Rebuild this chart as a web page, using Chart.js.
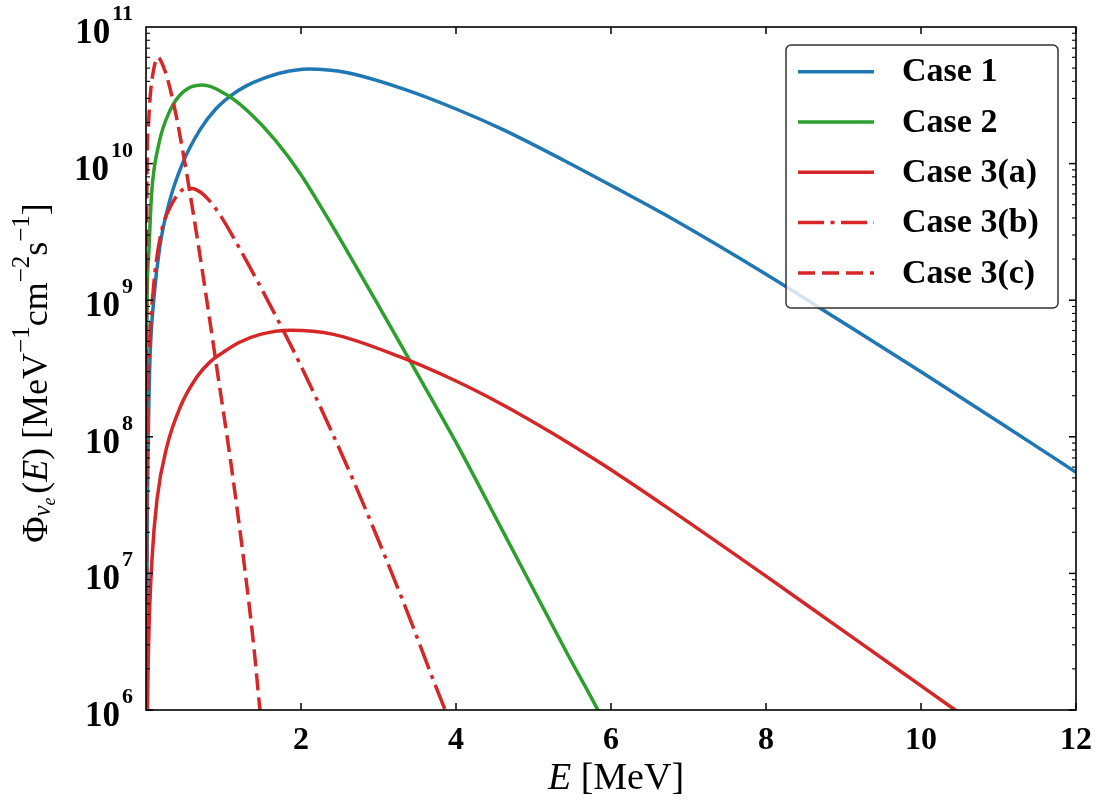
<!DOCTYPE html>
<html>
<head>
<meta charset="utf-8">
<script src="https://cdn.jsdelivr.net/npm/chart.js@4.4.1/dist/chart.umd.min.js"></script>
<style>
    html, body { margin: 0; padding: 0; background: #fff; }
    canvas { display: block; }
</style>
</head>
<body>
<canvas id="spectra" width="1096" height="806"></canvas>
<script>
// energies in MeV, fluxes in MeV^-1 cm^-2 s^-1
var case1E = [0.005, 0.015, 0.03, 0.05, 0.1, 0.18, 0.3, 0.47, 0.7, 0.9, 1.1, 1.3, 1.5, 1.75, 2.1, 2.6, 3.3, 4.0, 4.6, 5.4, 6.1, 6.7, 8.0, 8.9, 10.0, 11.0, 12.0];
var case1Flux = [3.2e5, 1.6e7, 1.0e8, 3.5e8, 1.0e9, 2.5e9, 5.2e9, 1.0e10, 1.78e10, 2.51e10, 3.16e10, 3.72e10, 4.17e10, 4.62e10, 4.92e10, 4.62e10, 3.55e10, 2.51e10, 1.78e10, 1.05e10, 6.46e9, 4.22e9, 1.55e9, 7.41e8, 2.99e8, 1.29e8, 5.5e7];

var case2E = [0.001, 0.008, 0.03, 0.072, 0.16, 0.31, 0.48, 0.72, 1.08, 1.35, 1.67, 2.0, 2.31, 2.64, 2.96, 3.43, 4.0, 4.59, 5.44, 5.83, 6.0];
var case2Flux = [3.2e5, 4.0e8, 1.95e9, 6.0e9, 1.35e10, 2.45e10, 3.35e10, 3.76e10, 3.09e10, 2.32e10, 1.48e10, 8.3e9, 4.3e9, 2.07e9, 1.0e9, 3.4e8, 9.1e7, 2.11e7, 2.56e6, 1.0e6, 6.3e5];

var case3aE = [0.004, 0.02, 0.034, 0.077, 0.142, 0.27, 0.443, 0.658, 0.83, 1.0, 1.2, 1.475, 1.86, 2.42, 3.28, 4.0, 4.59, 5.44, 5.87, 6.73, 8.0, 8.87, 9.73, 10.44, 10.6];
var case3aFlux = [3.2e4, 1.0e6, 3.1e6, 1.26e7, 3.47e7, 8.5e7, 1.66e8, 2.75e8, 3.55e8, 4.17e8, 4.9e8, 5.62e8, 6.03e8, 5.62e8, 3.84e8, 2.56e8, 1.73e8, 9.1e7, 6.4e7, 3.02e7, 9.55e6, 4.27e6, 1.93e6, 1.0e6, 8.6e5];

var case3bE = [0.002, 0.01, 0.043, 0.098, 0.185, 0.314, 0.53, 0.66, 0.8, 0.96, 1.217, 1.475, 1.733, 1.99, 2.66, 3.3, 3.86, 3.95];
var case3bFlux = [3.2e5, 3.2e7, 4.1e8, 1.26e9, 2.92e9, 4.83e9, 6.6e9, 6.4e9, 5.5e9, 4.17e9, 2.34e9, 1.26e9, 6.61e8, 3.39e8, 5.01e7, 6.61e6, 1.0e6, 7.6e5];

var case3cE = [0.001, 0.006, 0.012, 0.03, 0.055, 0.098, 0.15, 0.25, 0.36, 0.48, 0.61, 0.72, 0.85, 0.92, 1.09, 1.26, 1.39, 1.47, 1.55];
var case3cFlux = [1.0e5, 3.2e8, 7.1e9, 1.86e10, 3.16e10, 4.84e10, 6.0e10, 4.68e10, 2.69e10, 1.19e10, 4.32e9, 1.74e9, 5.62e8, 3.02e8, 6.76e7, 1.26e7, 2.95e6, 1.0e6, 3.5e5];

var seriesLabels = ["Case 1", "Case 2", "Case 3(a)", "Case 3(b)", "Case 3(c)"];
var xTickValues = [2, 4, 6, 8, 10, 12];
var yTickValues = [1e6, 1e7, 1e8, 1e9, 1e10, 1e11];
var yTickExponents = ["6", "7", "8", "9", "10", "11"];

var serif = "'Liberation Serif', 'Times New Roman', serif";
var blue = "#1f77b4", green = "#2ca02c", red = "#d62728";
var dashDot = [26, 6.5, 4, 6.5];
var dashed = [17, 7];

function toPoints(xs, ys) {
    return xs.map(function (x, i) {
        return { x: x, y: ys[i] };
    });
}

function lineSet(label, xs, ys, color, dash, order) {
    return {
        label: label,
        data: toPoints(xs, ys),
        borderColor: color,
        borderWidth: 3.5,
        borderDash: dash,
        borderCapStyle: "butt",
        pointRadius: 0,
        fill: false,
        cubicInterpolationMode: "monotone",
        clip: 0,
        order: order,
    };
}

function seg(ctx, x1, y1, x2, y2) {
    ctx.beginPath();
    ctx.moveTo(x1, y1);
    ctx.lineTo(x2, y2);
    ctx.stroke();
}

// draws a run of text pieces (sub/superscripts) centred on x
function drawRich(ctx, parts, x, y, size) {
    var total = 0;
    parts.forEach(function (p) {
        ctx.font = (p.it ? "italic " : "") + Math.round(size * (p.s || 1)) + "px " + serif;
        p.w = ctx.measureText(p.t).width + (p.gap || 0) * size;
        total += p.w;
    });
    var cx = x - total / 2;
    ctx.textAlign = "left";
    ctx.textBaseline = "alphabetic";
    parts.forEach(function (p) {
        ctx.font = (p.it ? "italic " : "") + Math.round(size * (p.s || 1)) + "px " + serif;
        ctx.fillText(p.t, cx, y + (p.dy || 0) * size);
        cx += p.w;
    });
}

var yTitle = [
    { t: "Φ" },
    { t: "ν", it: 1, s: 0.7, dy: 0.08 },
    { t: "e", it: 1, s: 0.5, dy: 0.22, gap: 0.1 },
    { t: "(" },
    { t: "E", it: 1 },
    { t: ") [MeV" },
    { t: "−1", s: 0.7, dy: -0.5 },
    { t: "cm" },
    { t: "−2", s: 0.7, dy: -0.5 },
    { t: "s" },
    { t: "−1", s: 0.7, dy: -0.5 },
    { t: "]" },
];
var xTitle = [{ t: "E", it: 1 }, { t: " [MeV]" }];

var decorations = {
    id: "decorations",
    afterDraw: function (chart) {
        var ctx = chart.ctx;
        var a = chart.chartArea;
        var xs = chart.scales.x;
        var ys = chart.scales.y;
        ctx.save();
        ctx.strokeStyle = "#000";
        ctx.fillStyle = "#000";

        // log ticks, major + minor, left and right, pointing in
        for (var d = 6; d <= 10; d++) {
            for (var m = 1; m <= 9; m++) {
                var py = ys.getPixelForValue(m * Math.pow(10, d));
                var len = m === 1 ? 7 : 4;
                ctx.lineWidth = m === 1 ? 1.5 : 1.1;
                seg(ctx, a.left, py, a.left + len, py);
                seg(ctx, a.right, py, a.right - len, py);
            }
        }
        ctx.lineWidth = 1.5;
        xTickValues.forEach(function (v) {
            var px = xs.getPixelForValue(v);
            seg(ctx, px, a.bottom, px, a.bottom - 7);
            seg(ctx, px, a.top, px, a.top + 7);
        });

        ctx.lineWidth = 1.6;
        ctx.strokeRect(a.left, a.top, a.right - a.left, a.bottom - a.top);

        // y tick labels 10^n
        ctx.textAlign = "left";
        ctx.textBaseline = "alphabetic";
        yTickValues.forEach(function (v, i) {
            var py = ys.getPixelForValue(v);
            ctx.font = "bold 22px " + serif;
            var we = ctx.measureText(yTickExponents[i]).width;
            ctx.font = "bold 35px " + serif;
            var wb = ctx.measureText("10").width;
            var right = a.left - 13;
            ctx.fillText("10", right - we - wb - 2, py + 16);
            ctx.font = "bold 22px " + serif;
            ctx.fillText(yTickExponents[i], right - we, py - 7);
        });

        // axis titles
        drawRich(ctx, xTitle, 616, 789, 38);
        ctx.save();
        ctx.translate(47, 373);
        ctx.rotate(-Math.PI / 2);
        drawRich(ctx, yTitle, 0, 0, 36);
        ctx.restore();

        // legend
        var lx = 786, ly = 45, lw = 272, lh = 263, r = 5;
        ctx.beginPath();
        ctx.moveTo(lx + r, ly);
        ctx.arcTo(lx + lw, ly, lx + lw, ly + lh, r);
        ctx.arcTo(lx + lw, ly + lh, lx, ly + lh, r);
        ctx.arcTo(lx, ly + lh, lx, ly, r);
        ctx.arcTo(lx, ly, lx + lw, ly, r);
        ctx.closePath();
        ctx.fillStyle = "rgba(255,255,255,0.8)";
        ctx.fill();
        ctx.strokeStyle = "#333";
        ctx.lineWidth = 1.5;
        ctx.stroke();

        chart.data.datasets.forEach(function (ds, i) {
            var ry = 71.7 + 50.3 * i;
            ctx.strokeStyle = ds.borderColor;
            ctx.lineWidth = 3.5;
            ctx.lineCap = "butt";
            ctx.setLineDash(ds.borderDash || []);
            seg(ctx, 798, ry, 874, ry);
            ctx.setLineDash([]);
            ctx.fillStyle = "#000";
            ctx.font = "bold 34px " + serif;
            ctx.textBaseline = "middle";
            ctx.fillText(seriesLabels[i], 902, ry + 1);
        });
        ctx.restore();
    },
};

new Chart(document.getElementById("spectra"), {
    type: "line",
    data: {
        datasets: [
            lineSet(seriesLabels[0], case1E, case1Flux, blue, [], 5),
            lineSet(seriesLabels[1], case2E, case2Flux, green, [], 4),
            lineSet(seriesLabels[2], case3aE, case3aFlux, red, [], 3),
            lineSet(seriesLabels[3], case3bE, case3bFlux, red, dashDot, 2),
            lineSet(seriesLabels[4], case3cE, case3cFlux, red, dashed, 1),
        ],
    },
    options: {
        responsive: false,
        animation: false,
        devicePixelRatio: 1,
        layout: { padding: { left: 0, right: 20, top: 27, bottom: 0 } },
        plugins: { legend: { display: false }, tooltip: { enabled: false } },
        scales: {
            x: {
                type: "linear",
                min: 0,
                max: 12,
                grid: { display: false },
                border: { display: false },
                afterFit: function (s) { s.height = 96; },
                afterBuildTicks: function (s) {
                    s.ticks = xTickValues.map(function (v) { return { value: v }; });
                },
                ticks: {
                    color: "#000",
                    autoSkip: false,
                    maxRotation: 0,
                    padding: 4,
                    font: { family: serif, size: 32, weight: "bold" },
                },
            },
            y: {
                type: "logarithmic",
                min: 1e6,
                max: 1e11,
                grid: { display: false },
                border: { display: false },
                afterFit: function (s) { s.width = 146; },
                ticks: { display: false },
            },
        },
    },
    plugins: [decorations],
});
</script>
</body>
</html>
